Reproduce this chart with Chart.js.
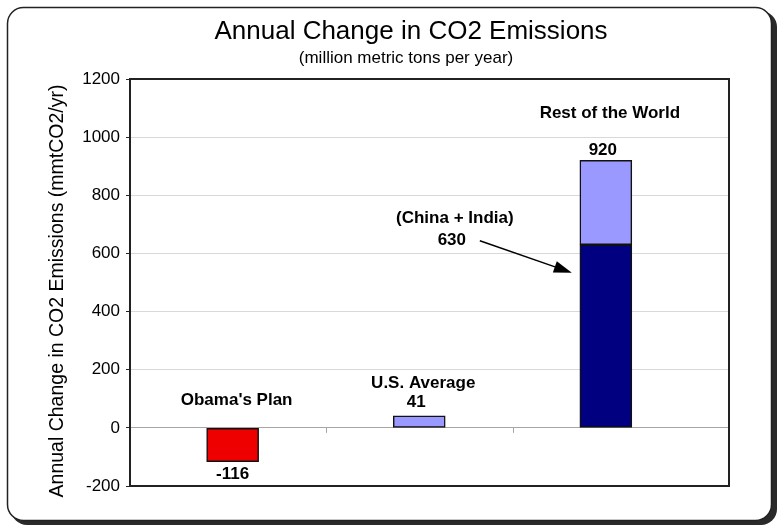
<!DOCTYPE html>
<html>
<head>
<meta charset="utf-8">
<script src="https://cdn.jsdelivr.net/npm/chart.js@4"></script>
<style>
  body { margin: 0; background: #fff; }
  #wrap { width: 778px; height: 525px; }
</style>
</head>
<body>
<div id="wrap"><canvas id="co2Chart" width="778" height="525"></canvas></div>
<script>
// chart data
var categories = ["Obama's Plan", "U.S. Average", "Rest of the World"];
var positions = [1, 2, 3];
var baseValues = [-116, 41, 630];     // China + India for the last bar
var upperValues = [null, null, 290];  // rest of the world on top
var totalLabels = ["-116", "41", "920"];
var yTicks = [-200, 0, 200, 400, 600, 800, 1000, 1200];

var FONT = '"Liberation Sans", Arial, sans-serif';
Chart.defaults.font.family = FONT;
Chart.defaults.color = '#000';

function rr(ctx, x, y, w, h, r) {
    ctx.beginPath();
    ctx.moveTo(x + r, y);
    ctx.arcTo(x + w, y, x + w, y + h, r);
    ctx.arcTo(x + w, y + h, x, y + h, r);
    ctx.arcTo(x, y + h, x, y, r);
    ctx.arcTo(x, y, x + w, y, r);
    ctx.closePath();
}

// outer box with shadow
var boxPlugin = {
    id: 'box',
    beforeDraw: function (chart) {
        var ctx = chart.ctx;
        ctx.save();
        ctx.fillStyle = '#fff';
        ctx.fillRect(0, 0, chart.width, chart.height);
        ctx.fillStyle = '#2a2a2a';
        rr(ctx, 11, 11, 766, 514, 16);
        ctx.fill();
        ctx.fillStyle = '#fff';
        rr(ctx, 7.5, 7.5, 764, 513, 16);
        ctx.fill();
        ctx.strokeStyle = '#222';
        ctx.lineWidth = 1.5;
        ctx.stroke();

        ctx.fillStyle = '#000';
        ctx.textAlign = 'center';
        ctx.textBaseline = 'middle';
        ctx.font = '26px ' + FONT;
        ctx.fillText('Annual Change in CO2 Emissions', 411, 32);
        ctx.font = '17px ' + FONT;
        ctx.fillText('(million metric tons per year)', 406, 58);

        // y axis title
        ctx.translate(58, 291);
        ctx.rotate(-Math.PI / 2);
        ctx.font = '19.5px ' + FONT;
        ctx.fillText('Annual Change in CO2 Emissions (mmtCO2/yr)', 0, 0);
        ctx.restore();
    },
    afterDatasetsDraw: function (chart) {
        var ctx = chart.ctx;
        var a = chart.chartArea;
        var xs = chart.scales.x, ys = chart.scales.y;
        ctx.save();

        // plot frame
        ctx.strokeStyle = '#222';
        ctx.lineWidth = 2;
        ctx.strokeRect(a.left, a.top, a.right - a.left, a.bottom - a.top);

        // category ticks on the zero line
        var y0 = ys.getPixelForValue(0);
        ctx.strokeStyle = '#a6a6a6';
        ctx.lineWidth = 1;
        [1.5, 2.5].forEach(function (v) {
            var px = Math.round(xs.getPixelForValue(v)) + 0.5;
            ctx.beginPath();
            ctx.moveTo(px, y0);
            ctx.lineTo(px, y0 + 5);
            ctx.stroke();
        });

        // names and values
        ctx.fillStyle = '#000';
        ctx.textAlign = 'center';
        ctx.textBaseline = 'middle';
        ctx.font = 'bold 17px ' + FONT;
        var nameOffset = [-28, -33, -47];
        var valueOffset = [13, -14, -10];
        for (var i = 0; i < categories.length; i++) {
            var cx = xs.getPixelForValue(positions[i]);
            var total = (baseValues[i] || 0) + (upperValues[i] || 0);
            var top = ys.getPixelForValue(Math.max(total, 0));
            var bottom = ys.getPixelForValue(Math.min(total, 0));
            ctx.fillText(categories[i], cx + 4, top + nameOffset[i]);
            if (total < 0) {
                ctx.fillText(totalLabels[i], cx, bottom + valueOffset[i]);
            } else {
                ctx.fillText(totalLabels[i], cx - 3, top + valueOffset[i]);
            }
        }

        // China + India callout
        var bx = xs.getPixelForValue(positions[2]);
        var by = ys.getPixelForValue(baseValues[2]);
        ctx.fillText('(China + India)', bx - 151, by - 26);
        ctx.fillText(String(baseValues[2]), bx - 154, by - 4);

        var x1 = bx - 126, y1 = by - 4;
        var x2 = bx - 34, y2 = by + 28;
        var ang = Math.atan2(y2 - y1, x2 - x1);
        ctx.strokeStyle = '#000';
        ctx.lineWidth = 1.5;
        ctx.beginPath();
        ctx.moveTo(x1, y1);
        ctx.lineTo(x2 - 14 * Math.cos(ang), y2 - 14 * Math.sin(ang));
        ctx.stroke();
        ctx.beginPath();
        ctx.moveTo(x2, y2);
        ctx.lineTo(x2 - 18 * Math.cos(ang) + 6 * Math.sin(ang), y2 - 18 * Math.sin(ang) - 6 * Math.cos(ang));
        ctx.lineTo(x2 - 18 * Math.cos(ang) - 6 * Math.sin(ang), y2 - 18 * Math.sin(ang) + 6 * Math.cos(ang));
        ctx.closePath();
        ctx.fillStyle = '#000';
        ctx.fill();
        ctx.restore();
    }
};

function toPoints(vals) {
    return vals.map(function (v, i) { return { x: positions[i], y: v }; });
}

var ctx = document.getElementById('co2Chart').getContext('2d');
new Chart(ctx, {
    type: 'bar',
    data: {
        datasets: [{
            label: 'base',
            data: toPoints(baseValues),
            backgroundColor: ['#ee0000', '#9999ff', '#000080'],
            borderColor: '#111',
            borderWidth: 1.5,
            borderSkipped: false,
            barThickness: 52
        }, {
            label: 'upper',
            data: toPoints(upperValues),
            backgroundColor: '#9999ff',
            borderColor: '#111',
            borderWidth: 1.5,
            borderSkipped: false,
            barThickness: 52
        }]
    },
    options: {
        responsive: false,
        animation: false,
        layout: { padding: { top: 79, right: 49, bottom: 39, left: 0 } },
        plugins: {
            legend: { display: false },
            tooltip: { enabled: false }
        },
        scales: {
            x: {
                type: 'linear',
                stacked: true,
                offset: false,
                min: 0.45,
                max: 3.66,
                display: false
            },
            y: {
                stacked: true,
                min: -200,
                max: 1200,
                afterFit: function (scale) { scale.width = 130; },
                afterBuildTicks: function (scale) {
                    scale.ticks = yTicks.map(function (v) { return { value: v }; });
                },
                ticks: {
                    font: { size: 17 },
                    color: '#000',
                    padding: 6,
                    callback: function (v) { return String(v); }
                },
                grid: {
                    color: function (c) { return c.tick && c.tick.value === 0 ? '#a6a6a6' : '#d9d9d9'; },
                    tickColor: '#222',
                    tickLength: 4,
                    lineWidth: 1
                },
                border: { color: '#222', width: 2 }
            }
        }
    },
    plugins: [boxPlugin]
});
</script>
</body>
</html>
